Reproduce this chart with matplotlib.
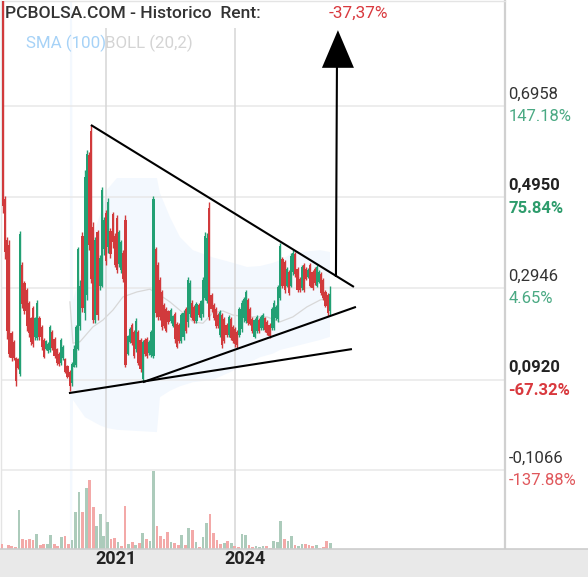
import matplotlib
matplotlib.use('Agg')
import matplotlib.pyplot as plt
import matplotlib.transforms as mtransforms
from matplotlib.patches import Rectangle
import numpy as np

# ── data ───────────────────────────────────────────────────────────────────
opens = [1.000, 0.490, 0.400, 0.390, 0.195, 0.175, 0.140, 0.138, 0.105, 0.345,
         0.305, 0.290, 0.262, 0.228, 0.250, 0.186, 0.185, 0.228, 0.208, 0.180,
         0.160, 0.155, 0.158, 0.198, 0.183, 0.160, 0.150, 0.130, 0.140, 0.138,
         0.122, 0.110, 0.085, 0.120, 0.125, 0.160, 0.210, 0.410, 0.240, 0.280,
         0.588, 0.640, 0.430, 0.225, 0.418, 0.300, 0.300, 0.380, 0.460, 0.385,
         0.420, 0.458, 0.410, 0.450, 0.348, 0.335, 0.372, 0.445, 0.150, 0.175,
         0.213, 0.198, 0.160, 0.198, 0.180, 0.095, 0.180, 0.182, 0.152, 0.148,
         0.145, 0.380, 0.345, 0.312, 0.285, 0.258, 0.248, 0.243, 0.222, 0.210,
         0.238, 0.215, 0.212, 0.178, 0.186, 0.248, 0.220, 0.237, 0.262, 0.252,
         0.222, 0.258, 0.228, 0.237, 0.272, 0.265, 0.470, 0.280, 0.258, 0.248,
         0.235, 0.192, 0.235, 0.226, 0.214, 0.192, 0.226, 0.208, 0.205, 0.198,
         0.192, 0.205, 0.228, 0.222, 0.268, 0.248, 0.226, 0.187, 0.200, 0.224,
         0.206, 0.206, 0.228, 0.220, 0.213, 0.206, 0.206, 0.228, 0.226, 0.272,
         0.358, 0.352, 0.300, 0.330, 0.300, 0.330, 0.370, 0.336, 0.315, 0.295,
         0.345, 0.336, 0.318, 0.345, 0.330, 0.336, 0.300, 0.308, 0.325, 0.312,
         0.286, 0.280, 0.245]
highs = [1.100, 0.498, 0.407, 0.400, 0.200, 0.180, 0.143, 0.140, 0.420, 0.352,
         0.310, 0.295, 0.266, 0.231, 0.255, 0.231, 0.268, 0.233, 0.213, 0.184,
         0.180, 0.176, 0.213, 0.202, 0.187, 0.162, 0.154, 0.184, 0.169, 0.140,
         0.125, 0.114, 0.132, 0.169, 0.213, 0.385, 0.312, 0.418, 0.555, 0.599,
         0.595, 0.654, 0.440, 0.407, 0.422, 0.367, 0.517, 0.451, 0.467, 0.493,
         0.427, 0.462, 0.416, 0.455, 0.422, 0.400, 0.378, 0.455, 0.191, 0.209,
         0.218, 0.202, 0.228, 0.202, 0.184, 0.180, 0.184, 0.187, 0.180, 0.202,
         0.497, 0.385, 0.352, 0.319, 0.290, 0.262, 0.253, 0.246, 0.250, 0.235,
         0.242, 0.220, 0.218, 0.240, 0.246, 0.253, 0.319, 0.312, 0.268, 0.257,
         0.264, 0.262, 0.268, 0.319, 0.418, 0.416, 0.484, 0.284, 0.262, 0.253,
         0.240, 0.246, 0.240, 0.231, 0.218, 0.235, 0.231, 0.213, 0.209, 0.202,
         0.253, 0.268, 0.275, 0.290, 0.273, 0.253, 0.231, 0.228, 0.235, 0.228,
         0.235, 0.240, 0.231, 0.224, 0.218, 0.253, 0.268, 0.257, 0.301, 0.394,
         0.363, 0.356, 0.341, 0.334, 0.372, 0.378, 0.374, 0.341, 0.319, 0.345,
         0.350, 0.341, 0.339, 0.350, 0.334, 0.341, 0.345, 0.334, 0.330, 0.317,
         0.290, 0.284, 0.300]
lows = [0.460, 0.358, 0.182, 0.143, 0.134, 0.136, 0.079, 0.116, 0.100, 0.250,
        0.237, 0.200, 0.187, 0.169, 0.165, 0.180, 0.180, 0.180, 0.158, 0.140,
        0.158, 0.151, 0.154, 0.158, 0.140, 0.125, 0.123, 0.125, 0.136, 0.107,
        0.096, 0.068, 0.079, 0.120, 0.120, 0.158, 0.202, 0.242, 0.224, 0.268,
        0.378, 0.306, 0.217, 0.217, 0.224, 0.290, 0.297, 0.367, 0.345, 0.372,
        0.361, 0.383, 0.341, 0.328, 0.341, 0.328, 0.308, 0.120, 0.147, 0.173,
        0.169, 0.140, 0.154, 0.125, 0.109, 0.090, 0.145, 0.140, 0.147, 0.143,
        0.140, 0.231, 0.224, 0.224, 0.202, 0.206, 0.197, 0.216, 0.218, 0.208,
        0.174, 0.162, 0.174, 0.174, 0.180, 0.195, 0.208, 0.231, 0.224, 0.217,
        0.217, 0.231, 0.224, 0.231, 0.268, 0.262, 0.224, 0.242, 0.224, 0.206,
        0.206, 0.187, 0.162, 0.173, 0.187, 0.187, 0.180, 0.173, 0.165, 0.162,
        0.187, 0.198, 0.220, 0.217, 0.213, 0.213, 0.195, 0.184, 0.195, 0.195,
        0.202, 0.202, 0.198, 0.191, 0.184, 0.202, 0.202, 0.224, 0.220, 0.268,
        0.295, 0.284, 0.297, 0.279, 0.297, 0.323, 0.319, 0.286, 0.286, 0.290,
        0.286, 0.312, 0.317, 0.297, 0.290, 0.301, 0.297, 0.306, 0.279, 0.268,
        0.253, 0.233, 0.235]
closes = [0.475, 0.375, 0.200, 0.150, 0.140, 0.140, 0.090, 0.118, 0.414, 0.260,
          0.245, 0.210, 0.195, 0.175, 0.172, 0.228, 0.262, 0.186, 0.165, 0.142,
          0.177, 0.172, 0.208, 0.162, 0.145, 0.130, 0.128, 0.180, 0.165, 0.110,
          0.098, 0.078, 0.128, 0.160, 0.208, 0.380, 0.300, 0.250, 0.540, 0.590,
          0.390, 0.315, 0.225, 0.400, 0.235, 0.360, 0.510, 0.445, 0.355, 0.485,
          0.370, 0.395, 0.345, 0.335, 0.418, 0.395, 0.315, 0.125, 0.188, 0.205,
          0.173, 0.145, 0.222, 0.130, 0.115, 0.175, 0.150, 0.145, 0.176, 0.198,
          0.490, 0.240, 0.230, 0.230, 0.208, 0.210, 0.200, 0.220, 0.246, 0.232,
          0.182, 0.165, 0.178, 0.235, 0.240, 0.200, 0.312, 0.305, 0.228, 0.222,
          0.260, 0.235, 0.265, 0.312, 0.410, 0.405, 0.230, 0.248, 0.228, 0.210,
          0.210, 0.242, 0.168, 0.178, 0.190, 0.230, 0.185, 0.178, 0.172, 0.168,
          0.248, 0.262, 0.270, 0.285, 0.218, 0.216, 0.200, 0.224, 0.230, 0.200,
          0.230, 0.235, 0.202, 0.195, 0.188, 0.248, 0.262, 0.253, 0.296, 0.388,
          0.300, 0.290, 0.336, 0.284, 0.365, 0.372, 0.325, 0.290, 0.290, 0.340,
          0.290, 0.315, 0.335, 0.300, 0.295, 0.306, 0.340, 0.330, 0.284, 0.272,
          0.255, 0.240, 0.2815]
candle_start = 2018.605   # year of first candle
candle_step = 0.05        # years between candles

volumes = [53, 0, 43, 33, 23, 393, 103, 93, 103, 93, 153, 43, 53, 53, 143, 53,
           33, 123, 133, 53, 93, 373, 573, 373, 613, 693, 423, 233, 353, 133,
           273, 103, 113, 73, 33, 433, 53, 73, 43, 63, 163, 103, 83, 783, 233,
           133, 103, 173, 73, 63, 43, 143, 43, 213, 193, 73, 23, 123, 263, 353,
           163, 93, 53, 63, 83, 63, 33, 23, 153, 143, 43, 23, 33, 23, 33, 33,
           13, 83, 73, 283, 103, 83, 133, 43, 33, 53, 53, 43, 33, 43, 13, 23,
           83, 63]
vol_dir = ("RRRRRGRRRRGRRGGRRGRRGGGRGRRGGGGRRGRRGRGRGRGGRRRR"
           "GRRGRGRGRGGRRRRGRGRRGGRRGGGRRGGGRGGRGGRRRGRRRG")
vol_start = 2018.565
vol_step = 0.0823

# bollinger band (20,2) envelope and middle line
band_x = [2020.163, 2020.209, 2020.233, 2020.512, 2020.860, 2021.023, 2021.256,
          2022.186, 2022.256, 2022.488, 2022.721, 2023.023, 2023.488, 2023.884,
          2024.279, 2024.581, 2024.884, 2025.047, 2025.349, 2025.977, 2026.209]
band_up = [1.000, 1.000, 0.268, 0.356, 0.455, 0.511, 0.537, 0.537, 0.504, 0.451,
           0.407, 0.378, 0.362, 0.352, 0.341, 0.343, 0.350, 0.356, 0.372, 0.378,
           0.374]
band_lo = [-0.300, -0.300, 0.048, 0.010, -0.008, -0.014, -0.018, -0.023, 0.054,
           0.068, 0.078, 0.087, 0.092, 0.109, 0.128, 0.142, 0.150, 0.158, 0.165,
           0.180, 0.187]
mid_x = [2020.163, 2020.233, 2020.395, 2020.698, 2020.930, 2021.163, 2021.395,
         2021.721, 2022.023, 2022.256, 2022.488, 2022.791, 2023.023, 2023.256,
         2023.488, 2023.721, 2023.953, 2024.279, 2024.744, 2025.047, 2025.349,
         2025.674, 2025.977, 2026.209]
mid_y = [0.264, 0.173, 0.176, 0.209, 0.224, 0.246, 0.275, 0.286, 0.292, 0.279,
         0.264, 0.240, 0.220, 0.217, 0.240, 0.244, 0.235, 0.231, 0.231, 0.220,
         0.231, 0.253, 0.268, 0.275]

# hand-drawn lines
trend_upper = [(2020.651, 0.654), (2026.767, 0.297)]
trend_lower = [(2021.860, 0.087), (2026.814, 0.253)]
trend_base = [(2020.140, 0.063), (2026.721, 0.160)]
arrow_shaft = [(2026.349, 0.319), (2026.372, 0.785)]
arrow_head = [(2026.395, 0.863), (2026.023, 0.780), (2026.767, 0.780)]

levels = [0.6958, 0.4950, 0.2946, 0.0920, -0.1066]
level_labels = ["0,6958", "0,4950", "0,2946", "0,0920", "-0,1066"]
pct_labels = ["147.18%", "75.84%", "4.65%", "-67.32%", "-137.88%"]
bold_levels = [False, True, False, True, False]
years = [2021, 2024]
rent = "-37,37%"

GREEN = "#22a074"
RED = "#d13a3c"
VGREEN = "#accbbb"
VRED = "#f3a9a8"
FONT = ["Roboto", "DejaVu Sans"]

# ── figure ─────────────────────────────────────────────────────────────────
W, H = 588, 577
fig = plt.figure(figsize=(W / 100, H / 100), dpi=100)
ax = fig.add_axes([1 / W, 28 / H, 504 / W, 548 / H])
ax.set_xlim(2018.56, 2030.28)
ax.set_ylim(-0.2807, 0.9273)

for s in ["left", "top"]:
    ax.spines[s].set_color("#e4e4e4")
    ax.spines[s].set_linewidth(1.0)
ax.spines["right"].set_color("#d0d0d0")
ax.spines["right"].set_linewidth(1.6)
ax.spines["bottom"].set_visible(False)
ax.set_xticks([]); ax.set_yticks([])

# grid
for lv in levels:
    ax.axhline(lv, color="#e8e8e8", lw=1.1, zorder=1)
for yr in years:
    ax.vlines(yr, -0.2807, 0.868, color="#d6d6d6", lw=1.1, zorder=1)

# bollinger
ax.fill_between(band_x, band_lo, band_up, color="#f3f8fe", lw=0, zorder=0.5)
ax.plot(mid_x, mid_y, color="#d8d8d8", lw=0.9, zorder=1.5)

# candles
n = len(opens)
cx = candle_start + candle_step * np.arange(n)
o = np.array(opens); c = np.array(closes)
cols = [GREEN if c[i] >= o[i] else RED for i in range(n)]
ax.vlines(cx, lows, highs, colors=cols, lw=1.0, zorder=3)
ax.bar(cx, np.abs(c - o), bottom=np.minimum(o, c), width=0.05,
       color=cols, lw=0, zorder=3)

# volume
axv = ax.twinx()
axv.set_ylim(0, max(volumes) * 548 / 78.3)
axv.set_axis_off()
vx = vol_start + vol_step * np.arange(len(volumes))
axv.bar(vx, volumes, width=0.063, lw=0,
        color=[VGREEN if d == "G" else VRED for d in vol_dir], zorder=2)

# trend lines and arrow
for ln in [trend_upper, trend_lower, trend_base, arrow_shaft]:
    xs, ys = zip(*ln)
    ax.plot(xs, ys, color="black", lw=1.5, solid_capstyle="butt", zorder=5)
hx, hy = zip(*arrow_head)
ax.fill(hx, hy, color="black", lw=0, zorder=5)

# right price labels
for lv, lab, pct, b in zip(levels, level_labels, pct_labels, bold_levels):
    neg = pct.startswith("-")
    if b:
        pcol = "#d9393e" if neg else "#2e9c6c"
    else:
        pcol = "#e0575b" if neg else "#4aa983"
    w = "bold" if b else "normal"
    ax.annotate(lab, xy=(1.0, lv), xycoords=("axes fraction", "data"),
                xytext=(2.6, 8.6), textcoords="offset points", va="center",
                ha="left", fontsize=12, family=FONT, fontweight=w,
                color="#222222" if b else "#333333", annotation_clip=False)
    ax.annotate(pct, xy=(1.0, lv), xycoords=("axes fraction", "data"),
                xytext=(2.6, -7.9), textcoords="offset points", va="center",
                ha="left", fontsize=12, family=FONT, fontweight=w, color=pcol,
                annotation_clip=False)

# bottom date strip
fig.add_artist(Rectangle((0, 0), 1, 28 / H, transform=fig.transFigure,
                         facecolor="#e9e9e9", edgecolor="none"))
fig.add_artist(plt.Line2D([0, 1], [28 / H, 28 / H], transform=fig.transFigure,
                          color="#cdcdcd", lw=1.2))
trans = mtransforms.blended_transform_factory(ax.transData, fig.transFigure)
for yr in years:
    fig.text(yr + 0.24, 17.5 / H, str(yr), transform=trans, ha="center",
             va="center", fontsize=13, fontweight="bold", family=FONT,
             color="#222222")

# header
fig.text(5 / W, 1 - 13 / H, "PCBOLSA.COM - Historico  Rent:", ha="left",
         va="center", fontsize=12.6, fontweight="medium", family=FONT, color="#333333")
fig.text(388 / W, 1 - 13 / H, rent, ha="right", va="center", fontsize=12.4,
         family=FONT, color="#d9393e")
fig.text(26 / W, 1 - 43 / H, "SMA (100)", ha="left", va="center", fontsize=12.2,
         family=FONT, color="#a6d2f7")
fig.text(105 / W, 1 - 43 / H, "BOLL (20,2)", ha="left", va="center", fontsize=12.2,
         family=FONT, color="#d4d4d4")

fig.savefig("out.png", dpi=100)
